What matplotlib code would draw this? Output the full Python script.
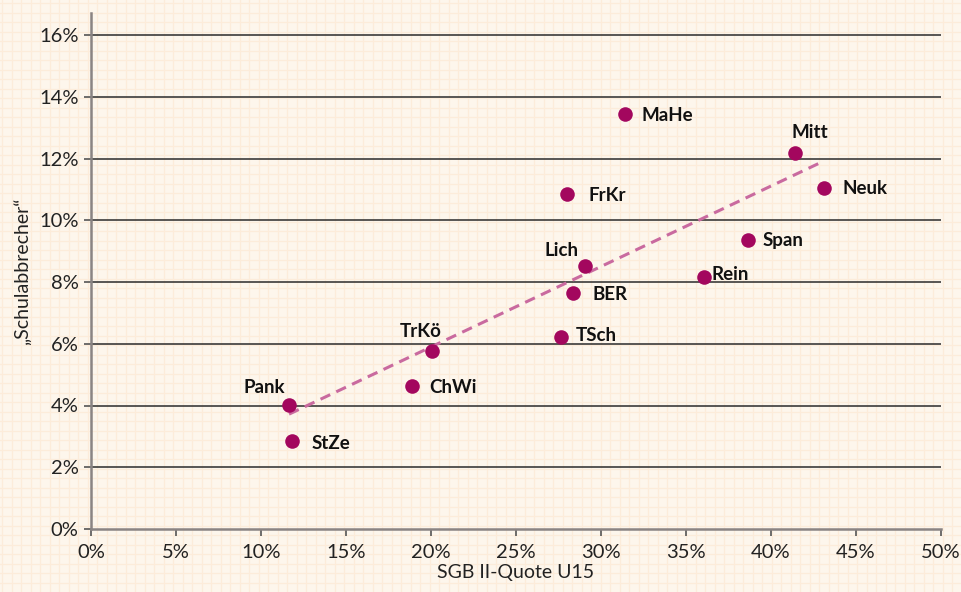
import numpy as np
import matplotlib.pyplot as plt
from matplotlib.ticker import FuncFormatter

# Daten (Bezirke)
bezirke = ["Pank", "StZe", "ChWi", "TrKö", "TSch", "BER", "Lich",
           "FrKr", "MaHe", "Rein", "Span", "Mitt", "Neuk"]
sgb_quote = [11.65, 11.8, 18.9, 20.05, 27.65, 28.35, 29.05,
             28.0, 31.4, 36.05, 38.65, 41.4, 43.1]
schulabbrecher = [4.02, 2.85, 4.63, 5.77, 6.22, 7.64, 8.52,
                  10.85, 13.44, 8.16, 9.36, 12.18, 11.04]

# Trendlinie (Endpunkte aus der Grafik)
trend_x = [11.65, 43.0]
trend_y = [3.72, 11.89]

# Label-Versatz in Pixeln und Ausrichtung
offsets = {
    "Pank": (-4, 17, "right"), "StZe": (20, -2, "left"),
    "ChWi": (17, -1, "left"), "TrKö": (-11, 19, "center"),
    "TSch": (15, 1, "left"), "BER": (20, -1, "left"),
    "Lich": (-23, 15, "center"), "FrKr": (21, -1, "left"),
    "MaHe": (17, -1, "left"), "Rein": (8, 3, "left"),
    "Span": (14, 0, "left"), "Mitt": (15, 20, "center"),
    "Neuk": (19, 0, "left"),
}

plt.rcParams['font.family'] = ['Lato', 'DejaVu Sans']

bg = "#fdf6ec"
paper = "#fcecda"
punkt = "#a3075e"

fig = plt.figure(figsize=(9.61, 5.92), dpi=100, facecolor=bg)

# Karopapier im Hintergrund
back = fig.add_axes([0, 0, 1, 1], zorder=-10)
back.set_xlim(0, 961)
back.set_ylim(592, 0)
back.set_facecolor(bg)
for gx in np.arange(2, 961, 9.5):
    back.axvline(gx, color=paper, lw=0.9)
for gy in np.arange(3, 592, 9.5):
    back.axhline(gy, color=paper, lw=0.9)
back.axis('off')

ax = fig.add_axes([91/961, 63/592, 850/961, 516/592])
ax.patch.set_alpha(0)
ax.set_xlim(0, 50)
ax.set_ylim(0, 516/30.875)

ax.set_yticks(np.arange(0, 17, 2))
ax.set_xticks(np.arange(0, 51, 5))
pct = FuncFormatter(lambda v, p: f"{v:.0f}%")
ax.xaxis.set_major_formatter(pct)
ax.yaxis.set_major_formatter(pct)

for yv in np.arange(2, 17, 2):
    ax.axhline(yv, color="#2a2a2a", lw=1.1, zorder=1)

for s in ["top", "right"]:
    ax.spines[s].set_visible(False)
for s in ["left", "bottom"]:
    ax.spines[s].set_color("#8a8483")
    ax.spines[s].set_linewidth(1.8)

ax.tick_params(axis='both', colors="#555", labelcolor="#222", labelsize=14.5,
               length=5, width=1.2)
ax.tick_params(axis='x', pad=6)
ax.tick_params(axis='y', pad=4)

ax.plot(trend_x, trend_y, ls=(0, (3.5, 2.2)), color="#c96a9f", lw=2.2, zorder=2)
ax.scatter(sgb_quote, schulabbrecher, s=110, color=punkt, zorder=3, linewidths=0)

for name, xv, yv in zip(bezirke, sgb_quote, schulabbrecher):
    dx, dy, ha = offsets[name]
    ax.annotate(name, (xv, yv), xytext=(dx, dy), textcoords='offset pixels',
                ha=ha, va='center', fontsize=13.5, fontweight='bold', color="#111")

ax.set_xlabel("SGB II-Quote U15", fontsize=14, color="#222", labelpad=2)
ax.set_ylabel("„Schulabbrecher“", fontsize=14, color="#222", labelpad=6)

fig.savefig("out.png", dpi=100, facecolor=bg)
